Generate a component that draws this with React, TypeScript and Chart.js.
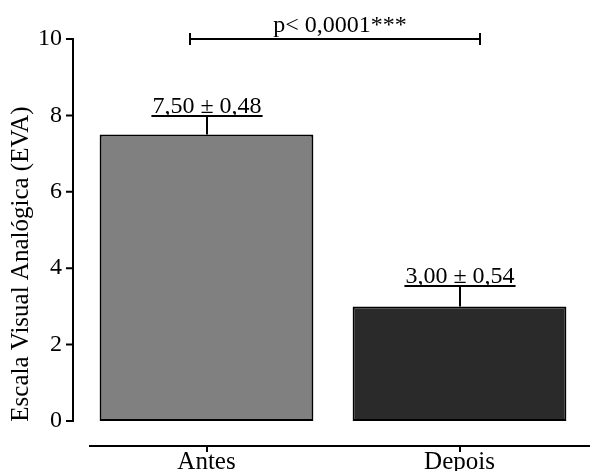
import React, { useEffect, useRef } from "react";
import { Chart, registerables } from "chart.js";

Chart.register(...registerables);

const categories = ["Antes", "Depois"];
const means = [7.5, 3.0];
const sems = [0.48, 0.54];
const yTicks = [0, 2, 4, 6, 8, 10];
const yTitle = "Escala Visual Analógica (EVA)";
const pLabel = "p< 0,0001***";
const bracketSpan = [-0.065, 1.08];
const bracketLevel = 10;
const barColors = ["#808080", "#2a2a2a"];

const FONT = "'Liberation Serif', 'Times New Roman', serif";

export default function App() {
  const ref = useRef<HTMLCanvasElement>(null);

  useEffect(() => {
    document.body.style.margin = "0";
    const canvas = ref.current!;
    const fmt = (n: number) => n.toFixed(2).replace(".", ",");

    const overlay = {
      id: "overlay",
      afterDatasetsDraw(chart: any) {
        const ctx = chart.ctx as CanvasRenderingContext2D;
        const x = chart.scales.x;
        const y = chart.scales.y;
        const ca = chart.chartArea;
        ctx.save();
        ctx.strokeStyle = "#000";
        ctx.fillStyle = "#000";
        ctx.lineWidth = 2;
        ctx.font = `24px ${FONT}`;

        // y axis
        const ax = ca.left - 7;
        ctx.beginPath();
        ctx.moveTo(ax, y.getPixelForValue(10) - 1);
        ctx.lineTo(ax, y.getPixelForValue(0) + 1);
        yTicks.forEach((t) => {
          const py = y.getPixelForValue(t);
          ctx.moveTo(ax - 7, py);
          ctx.lineTo(ax, py);
        });
        ctx.stroke();

        // x axis
        const bx = ca.bottom + 25;
        ctx.beginPath();
        ctx.moveTo(ca.left + 9, bx);
        ctx.lineTo(chart.width, bx);
        categories.forEach((_, i) => {
          const px = Math.round(x.getPixelForValue(i));
          ctx.moveTo(px, bx);
          ctx.lineTo(px, bx + 6);
        });
        ctx.stroke();

        // error bars + labels
        ctx.textAlign = "center";
        ctx.textBaseline = "alphabetic";
        means.forEach((m, i) => {
          const cx = Math.round(x.getPixelForValue(i));
          const yBar = y.getPixelForValue(m);
          const yTop = Math.round(y.getPixelForValue(m + sems[i]));
          const label = `${fmt(m)} ± ${fmt(sems[i])}`;
          const w = ctx.measureText(label).width;
          ctx.beginPath();
          ctx.moveTo(cx, yBar);
          ctx.lineTo(cx, yTop);
          ctx.moveTo(cx - w / 2 - 1, yTop);
          ctx.lineTo(cx + w / 2 + 1, yTop);
          ctx.stroke();
          ctx.fillText(label, cx, yTop - 3);
        });

        // significance bracket
        const x1 = Math.round(x.getPixelForValue(bracketSpan[0]));
        const x2 = Math.round(x.getPixelForValue(bracketSpan[1]));
        const by = Math.round(y.getPixelForValue(bracketLevel));
        ctx.beginPath();
        ctx.moveTo(x1, by);
        ctx.lineTo(x2, by);
        ctx.moveTo(x1, by - 6);
        ctx.lineTo(x1, by + 6);
        ctx.moveTo(x2, by - 6);
        ctx.lineTo(x2, by + 6);
        ctx.stroke();
        ctx.fillText(pLabel, (x1 + x2) / 2 + 5, by - 7);

        // y title
        ctx.font = `25px ${FONT}`;
        ctx.translate(21, (ca.top + ca.bottom) / 2 + 34);
        ctx.rotate(-Math.PI / 2);
        ctx.textBaseline = "middle";
        ctx.fillText(yTitle, 0, 0);
        ctx.restore();
      },
    };

    const chart = new Chart(canvas, {
      type: "bar",
      data: {
        labels: categories,
        datasets: [
          {
            data: means,
            backgroundColor: barColors,
            borderColor: "#000",
            borderWidth: 2,
            borderSkipped: false,
            barPercentage: 0.845,
            categoryPercentage: 1,
          },
        ],
      },
      options: {
        animation: false,
        responsive: false,
        devicePixelRatio: 1,
        layout: { padding: { top: 39, right: 4, left: 0, bottom: 0 } },
        plugins: { legend: { display: false }, tooltip: { enabled: false } },
        scales: {
          x: {
            type: "category",
            offset: true,
            grid: { display: false, drawTicks: false },
            border: { display: false },
            ticks: { color: "#000", font: { size: 25, family: FONT }, padding: 26 },
            afterFit: (s: any) => {
              s.height = 50;
            },
          },
          y: {
            min: 0,
            max: 10,
            grid: { display: false, drawTicks: false },
            border: { display: false },
            ticks: { stepSize: 2, color: "#000", font: { size: 24, family: FONT }, padding: 18 },
            afterFit: (s: any) => {
              s.width = 80;
            },
          },
        },
      },
      plugins: [overlay],
    });

    return () => chart.destroy();
  }, []);

  return (
    <div style={{ width: 590, height: 471, background: "#fff" }}>
      <canvas ref={ref} width={590} height={471} style={{ display: "block", width: 590, height: 471 }} />
    </div>
  );
}
